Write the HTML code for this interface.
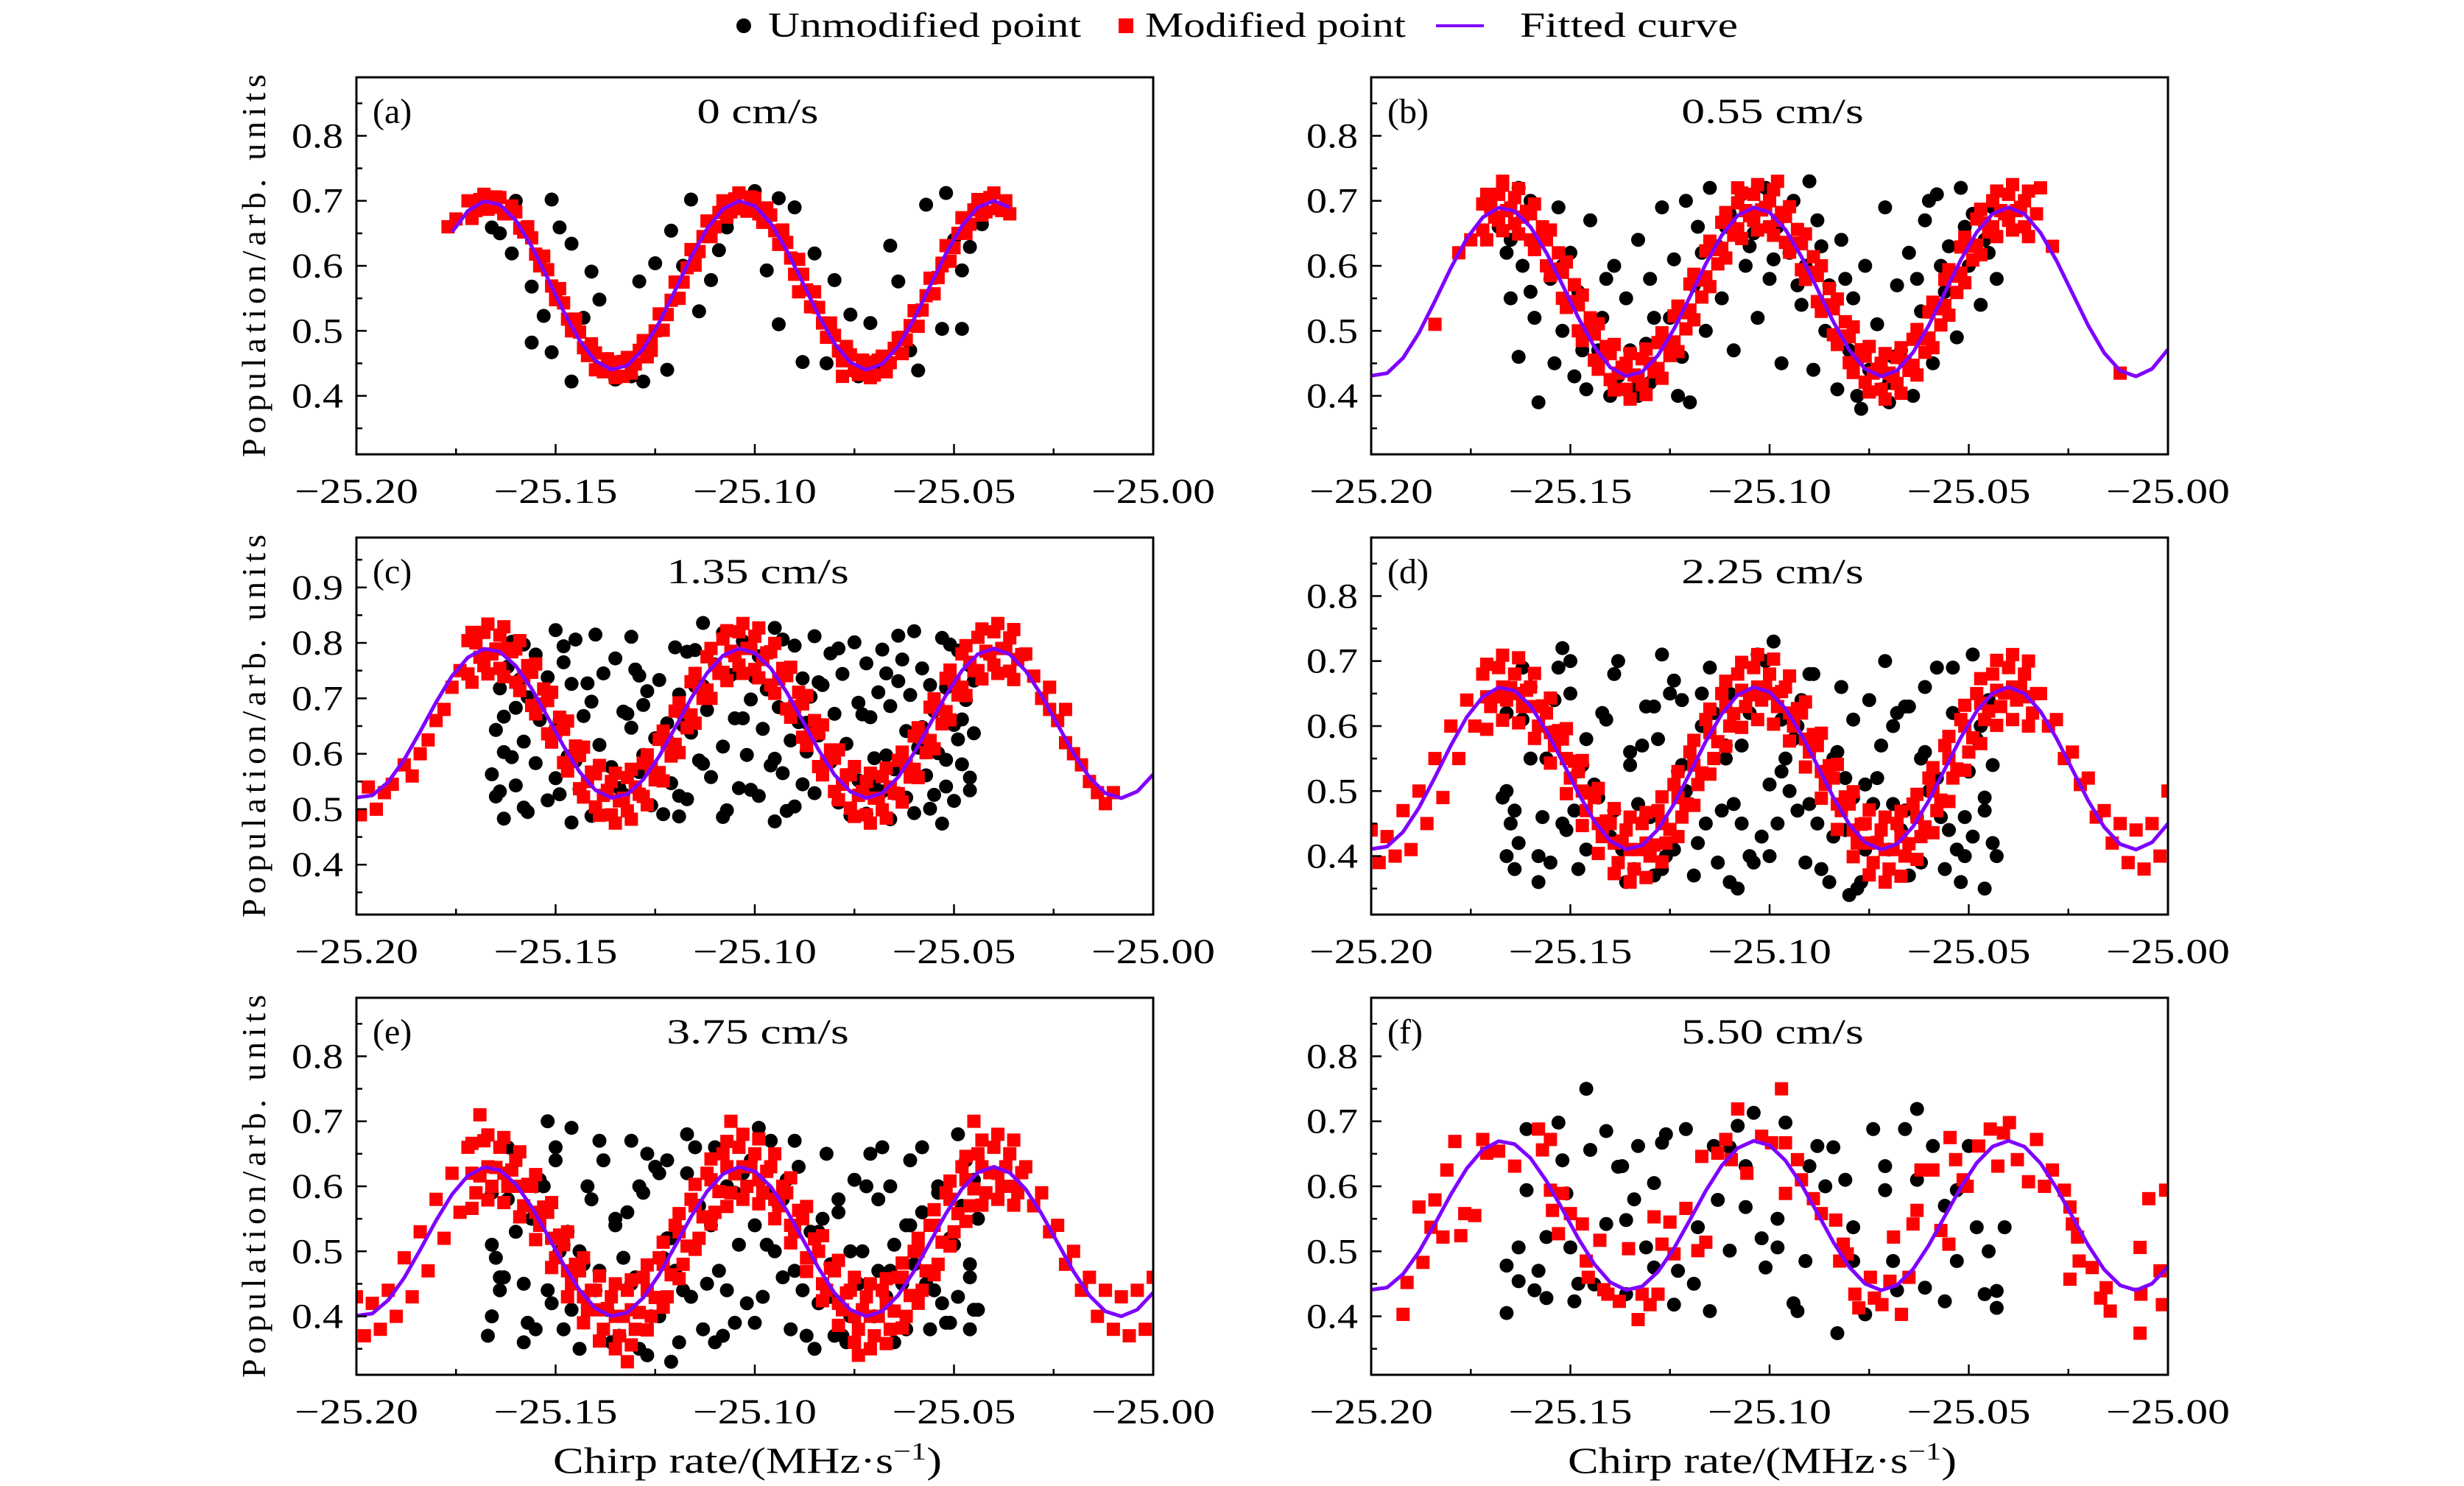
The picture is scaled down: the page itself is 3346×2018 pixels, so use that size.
<!DOCTYPE html>
<html><head><meta charset="utf-8">
<style>
html,body{margin:0;padding:0;background:#fff;}
svg{display:block;font-family:"Liberation Serif","DejaVu Serif",serif;}
</style></head>
<body>
<svg id="fig" width="3346" height="2018" viewBox="0 0 3346 2018" xmlns="http://www.w3.org/2000/svg">
<g>
<circle cx="1010" cy="35" r="10" fill="#000"/>
<text x="1043" y="50" font-size="48" textLength="425" lengthAdjust="spacingAndGlyphs">Unmodified point</text>
<rect x="1519" y="25" width="20" height="20" fill="#f00"/>
<text x="1555" y="50" font-size="48" textLength="354" lengthAdjust="spacingAndGlyphs">Modified point</text>
<line x1="1950" y1="35" x2="2015" y2="35" stroke="#7f00ff" stroke-width="4"/>
<text x="2064" y="50" font-size="48" textLength="296" lengthAdjust="spacingAndGlyphs">Fitted curve</text>
</g>
</svg>
<script>
// ---------- shared data ----------
const xTicks = [-25.20, -25.15, -25.10, -25.05, -25.00];
const xTickLabels = ["\u221225.20", "\u221225.15", "\u221225.10", "\u221225.05", "\u221225.00"];
const yTicksStd = [0.4, 0.5, 0.6, 0.7, 0.8];
const yTicksC = [0.4, 0.5, 0.6, 0.7, 0.8, 0.9];
const panelLetters = ["(a)", "(b)", "(c)", "(d)", "(e)", "(f)"];
const panelTitles = ["0 cm/s", "0.55 cm/s", "1.35 cm/s", "2.25 cm/s", "3.75 cm/s", "5.50 cm/s"];
const panelYMin = [0.31, 0.31, 0.31, 0.31, 0.31, 0.31];
const panelYMax = [0.89, 0.89, 0.99, 0.89, 0.89, 0.89];
const curveX = [-25.200,-25.196,-25.192,-25.188,-25.184,-25.180,-25.176,-25.172,-25.168,-25.164,-25.160,-25.156,-25.152,-25.148,-25.144,-25.140,-25.136,-25.132,-25.128,-25.124,-25.120,-25.116,-25.112,-25.108,-25.104,-25.100,-25.096,-25.092,-25.088,-25.084,-25.080,-25.076,-25.072,-25.068,-25.064,-25.060,-25.056,-25.052,-25.048,-25.044,-25.040,-25.036,-25.032,-25.028,-25.024,-25.020,-25.016,-25.012,-25.008,-25.004,-25.000];
const curveShape = [-0.993,-0.963,-0.783,-0.485,-0.110,0.282,0.631,0.881,0.995,0.956,0.768,0.462,0.084,-0.306,-0.649,-0.893,-0.997,-0.948,-0.752,-0.440,-0.059,0.331,0.669,0.903,0.999,0.940,0.736,0.416,0.035,-0.355,-0.688,-0.913,-1.0,-0.931,-0.718,-0.394,-0.009,0.378,0.705,0.924,1.0,0.921,0.700,0.371,-0.016,-0.400,-0.723,-0.934,-1.0,-0.911,-0.682];
const curveMean = [0.57, 0.56, 0.655, 0.535, 0.515, 0.555];
const curveAmp = [0.13, 0.13, 0.135, 0.125, 0.115, 0.115];
const curveFrom = [-25.178, -25.2, -25.2, -25.2, -25.2, -25.2];
const curveTo = [-25.036, -25.0, -25.0, -25.0, -25.0, -25.0];

const bandX = [-25.171,-25.171,-25.169,-25.167,-25.167,-25.165,-25.163,-25.163,-25.161,-25.159,-25.159,-25.157,-25.155,-25.155,-25.153,-25.151,-25.151,-25.149,-25.147,-25.147,-25.145,-25.143,-25.143,-25.141,-25.139,-25.139,-25.137,-25.135,-25.135,-25.133,-25.131,-25.131,-25.129,-25.127,-25.127,-25.125,-25.123,-25.123,-25.121,-25.119,-25.119,-25.117,-25.115,-25.115,-25.113,-25.111,-25.111,-25.109,-25.107,-25.107,-25.105,-25.103,-25.103,-25.101,-25.099,-25.099,-25.097,-25.095,-25.095,-25.093,-25.091,-25.091,-25.089,-25.087,-25.087,-25.085,-25.083,-25.083,-25.081,-25.079,-25.079,-25.077,-25.075,-25.075,-25.073,-25.071,-25.071,-25.069,-25.067,-25.067,-25.065,-25.063,-25.063,-25.061,-25.059,-25.059,-25.057,-25.055,-25.055,-25.053,-25.051,-25.051,-25.049,-25.047,-25.047,-25.045,-25.043,-25.043,-25.041,-25.039,-25.039,-25.037,-25.035,-25.035,-25.033];

// ---------- panel (a) ----------
const aRedX = [-25.177,-25.175,-25.172,-25.170,-25.168,-25.166,-25.164,-25.162,-25.160,-25.158,-25.156,-25.154,-25.152,-25.150,-25.148,-25.146,-25.144,-25.142,-25.140,-25.138,-25.136,-25.134,-25.132,-25.130,-25.128,-25.126,-25.124,-25.122,-25.120,-25.118,-25.116,-25.114,-25.112,-25.110,-25.108,-25.106,-25.104,-25.102,-25.100,-25.098,-25.096,-25.094,-25.092,-25.090,-25.088,-25.086,-25.084,-25.082,-25.080,-25.078,-25.076,-25.074,-25.072,-25.070,-25.068,-25.066,-25.064,-25.062,-25.060,-25.058,-25.056,-25.054,-25.052,-25.050,-25.048,-25.046,-25.044,-25.042,-25.040,-25.038,-25.036,-25.171,-25.163,-25.150,-25.140,-25.133,-25.126,-25.115,-25.105,-25.099,-25.089,-25.078,-25.071,-25.063,-25.053,-25.043,
-25.171,-25.169,-25.167,-25.165,-25.163,-25.161,-25.159,-25.157,-25.155,-25.153,-25.151,-25.149,-25.147,-25.145,-25.143,-25.141,-25.139,-25.137,-25.135,-25.133,-25.131,-25.129,-25.127,-25.125,-25.123,-25.121,-25.119,-25.117,-25.115,-25.113,-25.111,-25.109,-25.107,-25.105,-25.103,-25.101,-25.099,-25.097,-25.095,-25.093,-25.091,-25.089,-25.087,-25.085,-25.083,-25.081,-25.079,-25.077,-25.075,-25.073,-25.071,-25.069,-25.067,-25.065,-25.063,-25.061,-25.059,-25.057,-25.055,-25.053,-25.051,-25.049,-25.047,-25.045,-25.043,-25.041,-25.039,-25.037];
const aRedY = [0.66,0.672,0.70,0.685,0.71,0.69,0.705,0.68,0.683,0.652,0.643,0.60,0.594,0.548,0.543,0.50,0.498,0.462,0.466,0.437,0.452,0.43,0.459,0.449,0.485,0.48,0.526,0.525,0.575,0.575,0.625,0.622,0.669,0.66,0.70,0.683,0.712,0.684,0.704,0.667,0.678,0.633,0.636,0.587,0.587,0.537,0.536,0.49,0.493,0.454,0.463,0.433,0.452,0.432,0.461,0.451,0.489,0.486,0.531,0.532,0.581,0.582,0.631,0.628,0.674,0.664,0.702,0.683,0.712,0.685,0.68,0.675,0.68,0.56,0.44,0.43,0.47,0.62,0.69,0.685,0.56,0.43,0.44,0.49,0.60,0.69,
0.673,0.702,0.687,0.706,0.682,0.692,0.658,0.66,0.618,0.615,0.569,0.565,0.518,0.518,0.474,0.48,0.442,0.457,0.428,0.453,0.435,0.47,0.46,0.50,0.501,0.547,0.55,0.597,0.601,0.645,0.645,0.682,0.675,0.703,0.688,0.706,0.68,0.689,0.654,0.655,0.612,0.61,0.563,0.56,0.512,0.512,0.469,0.476,0.439,0.455,0.428,0.455,0.437,0.473,0.465,0.508,0.507,0.554,0.557,0.604,0.607,0.65,0.65,0.686,0.678,0.705,0.688,0.70];
const aBlackX = [-25.166,-25.164,-25.161,-25.156,-25.156,-25.153,-25.151,-25.151,-25.149,-25.146,-25.141,-25.139,-25.146,-25.128,-25.129,-25.125,-25.121,-25.116,-25.114,-25.111,-25.107,-25.109,-25.104,-25.094,-25.097,-25.094,-25.088,-25.085,-25.080,-25.076,-25.071,-25.066,-25.064,-25.059,-25.057,-25.053,-25.048,-25.048,-25.046,-25.043,-25.052,-25.135,-25.122,-25.082,-25.069,-25.160,-25.143,-25.131,-25.118,-25.100,-25.090,-25.074,-25.061,-25.050,-25.168];
const aBlackY = [0.659,0.650,0.619,0.568,0.482,0.523,0.467,0.702,0.659,0.634,0.591,0.548,0.422,0.422,0.576,0.604,0.654,0.702,0.530,0.578,0.659,0.624,0.690,0.704,0.593,0.510,0.452,0.619,0.578,0.525,0.512,0.631,0.576,0.439,0.694,0.503,0.503,0.593,0.629,0.664,0.712,0.425,0.440,0.450,0.440,0.700,0.520,0.430,0.600,0.715,0.690,0.430,0.470,0.640,0.690];

// ---------- panel (b) ----------
const bRedX = [-25.172,-25.172,-25.170,-25.168,-25.168,-25.166,-25.164,-25.164,-25.162,-25.160,-25.160,-25.158,-25.156,-25.156,-25.154,-25.152,-25.152,-25.150,-25.148,-25.148,-25.146,-25.144,-25.144,-25.142,-25.140,-25.140,-25.138,-25.136,-25.136,-25.134,-25.132,-25.132,-25.130,-25.128,-25.128,-25.126,-25.124,-25.124,-25.122,-25.120,-25.120,-25.118,-25.116,-25.116,-25.114,-25.112,-25.112,-25.110,-25.108,-25.108,-25.106,-25.104,-25.104,-25.102,-25.100,-25.100,-25.098,-25.096,-25.096,-25.094,-25.092,-25.092,-25.090,-25.088,-25.088,-25.086,-25.084,-25.084,-25.082,-25.080,-25.080,-25.078,-25.076,-25.076,-25.074,-25.072,-25.072,-25.070,-25.068,-25.068,-25.066,-25.064,-25.064,-25.062,-25.060,-25.060,-25.058,-25.056,-25.056,-25.054,-25.052,-25.052,-25.050,-25.048,-25.048,-25.046,-25.044,-25.044,-25.042,-25.040,-25.040,-25.038,-25.036,-25.036,-25.178,-25.184,-25.175,-25.032,-25.029,-25.012,-25.167,-25.108,-25.098];
const bRedY = [0.695,0.655,0.69,0.71,0.67,0.685,0.705,0.665,0.675,0.68,0.64,0.64,0.64,0.60,0.595,0.59,0.55,0.545,0.54,0.50,0.50,0.495,0.455,0.46,0.465,0.425,0.435,0.45,0.41,0.432,0.457,0.417,0.45,0.482,0.442,0.48,0.523,0.483,0.528,0.572,0.532,0.578,0.623,0.583,0.625,0.667,0.627,0.662,0.697,0.657,0.685,0.71,0.67,0.686,0.70,0.66,0.67,0.676,0.636,0.635,0.634,0.594,0.59,0.585,0.545,0.54,0.534,0.494,0.492,0.491,0.451,0.456,0.461,0.421,0.435,0.45,0.41,0.435,0.459,0.419,0.453,0.487,0.447,0.488,0.529,0.489,0.534,0.579,0.539,0.584,0.629,0.589,0.63,0.672,0.632,0.666,0.70,0.66,0.685,0.71,0.67,0.685,0.70,0.66,0.62,0.51,0.64,0.72,0.63,0.435,0.73,0.72,0.73];
const bBandY = [0.71,0.64,0.675,0.724,0.654,0.689,0.719,0.649,0.684,0.695,0.625,0.66,0.655,0.585,0.62,0.606,0.536,0.571,0.555,0.485,0.52,0.511,0.441,0.476,0.479,0.409,0.444,0.465,0.395,0.43,0.472,0.402,0.437,0.497,0.427,0.462,0.538,0.468,0.503,0.587,0.517,0.552,0.638,0.568,0.603,0.682,0.612,0.647,0.712,0.642,0.677,0.725,0.655,0.69,0.717,0.647,0.682,0.691,0.621,0.656,0.649,0.579,0.614,0.60,0.53,0.565,0.549,0.479,0.514,0.506,0.436,0.471,0.476,0.406,0.441,0.465,0.395,0.43,0.474,0.404,0.439,0.502,0.432,0.467,0.544,0.474,0.509,0.594,0.524,0.559,0.644,0.574,0.609,0.687,0.617,0.652,0.715,0.645,0.68,0.725,0.655,0.69,0.715,0.645,0.68];
const bBlackX = [-25.168,-25.166,-25.165,-25.163,-25.162,-25.160,-25.159,-25.158,-25.157,-25.155,-25.154,-25.153,-25.152,-25.150,-25.149,-25.148,-25.146,-25.145,-25.143,-25.142,-25.140,-25.139,-25.137,-25.136,-25.134,-25.133,-25.131,-25.130,-25.128,-25.127,-25.125,-25.124,-25.122,-25.121,-25.119,-25.118,-25.116,-25.115,-25.113,-25.112,-25.110,-25.109,-25.107,-25.106,-25.104,-25.103,-25.101,-25.100,-25.098,-25.097,-25.095,-25.094,-25.092,-25.091,-25.089,-25.088,-25.086,-25.085,-25.083,-25.082,-25.080,-25.079,-25.077,-25.076,-25.074,-25.073,-25.071,-25.070,-25.068,-25.067,-25.065,-25.064,-25.062,-25.061,-25.059,-25.058,-25.056,-25.055,-25.053,-25.052,-25.050,-25.049,-25.047,-25.046,-25.044,-25.043,-25.163,-25.145,-25.120,-25.090,-25.060,-25.130,-25.070,
-25.165,-25.160,-25.152,-25.147,-25.141,-25.135,-25.129,-25.123,-25.117,-25.111,-25.105,-25.099,-25.093,-25.087,-25.081,-25.075,-25.069,-25.063,-25.057,-25.051,-25.045,-25.138,-25.133,-25.078,-25.072];
const bBlackY = [0.66,0.62,0.55,0.46,0.60,0.70,0.52,0.39,0.64,0.58,0.45,0.69,0.50,0.62,0.43,0.56,0.41,0.67,0.47,0.52,0.40,0.60,0.44,0.55,0.41,0.64,0.48,0.58,0.43,0.69,0.52,0.61,0.46,0.70,0.57,0.66,0.50,0.72,0.63,0.55,0.68,0.47,0.71,0.60,0.65,0.52,0.72,0.58,0.66,0.45,0.62,0.70,0.54,0.60,0.44,0.67,0.50,0.57,0.41,0.64,0.47,0.55,0.38,0.60,0.44,0.51,0.69,0.42,0.57,0.47,0.62,0.40,0.53,0.67,0.45,0.71,0.56,0.63,0.49,0.72,0.60,0.68,0.54,0.64,0.69,0.58,0.72,0.50,0.39,0.73,0.70,0.42,0.39,
0.64,0.56,0.60,0.47,0.58,0.47,0.52,0.40,0.62,0.66,0.63,0.61,0.57,0.63,0.58,0.44,0.46,0.58,0.60,0.66,0.62,0.43,0.40,0.40,0.41];

// ---------- panel (c) ----------
const cRedX = [-25.199,-25.197,-25.195,-25.193,-25.191,-25.188,-25.186,-25.184,-25.182,-25.180,-25.178,-25.176,-25.174,-25.172,-25.172,-25.170,-25.168,-25.168,-25.166,-25.164,-25.164,-25.162,-25.160,-25.160,-25.158,-25.156,-25.156,-25.154,-25.152,-25.152,-25.150,-25.148,-25.148,-25.146,-25.144,-25.144,-25.142,-25.140,-25.140,-25.138,-25.136,-25.136,-25.134,-25.132,-25.132,-25.130,-25.128,-25.128,-25.126,-25.124,-25.124,-25.122,-25.120,-25.120,-25.118,-25.116,-25.116,-25.114,-25.112,-25.112,-25.110,-25.108,-25.108,-25.106,-25.104,-25.104,-25.102,-25.100,-25.100,-25.098,-25.096,-25.096,-25.094,-25.092,-25.092,-25.090,-25.088,-25.088,-25.086,-25.084,-25.084,-25.082,-25.080,-25.080,-25.078,-25.076,-25.076,-25.074,-25.072,-25.072,-25.070,-25.068,-25.068,-25.066,-25.064,-25.064,-25.062,-25.060,-25.060,-25.058,-25.056,-25.056,-25.054,-25.052,-25.052,-25.050,-25.048,-25.048,-25.046,-25.044,-25.044,-25.042,-25.040,-25.040,-25.038,-25.036,-25.036,-25.034,-25.032,-25.030,-25.028,-25.026,-25.024,-25.022,-25.020,-25.018,-25.016,-25.014,-25.012,-25.010,-25.022,-25.026];
const cRedY = [0.49,0.54,0.50,0.53,0.545,0.58,0.56,0.60,0.625,0.66,0.68,0.72,0.75,0.804,0.744,0.80,0.819,0.759,0.78,0.814,0.754,0.79,0.789,0.729,0.74,0.747,0.687,0.69,0.696,0.636,0.64,0.644,0.584,0.59,0.597,0.537,0.55,0.564,0.504,0.525,0.55,0.49,0.515,0.557,0.497,0.54,0.583,0.523,0.575,0.626,0.566,0.62,0.677,0.617,0.675,0.73,0.67,0.72,0.775,0.715,0.76,0.807,0.747,0.785,0.82,0.76,0.79,0.812,0.752,0.77,0.784,0.724,0.735,0.741,0.681,0.685,0.69,0.63,0.635,0.637,0.577,0.585,0.592,0.532,0.545,0.562,0.502,0.525,0.55,0.49,0.52,0.559,0.499,0.54,0.588,0.528,0.58,0.632,0.572,0.63,0.684,0.624,0.68,0.736,0.676,0.73,0.78,0.72,0.765,0.81,0.75,0.785,0.82,0.76,0.79,0.809,0.749,0.77,0.78,0.74,0.70,0.68,0.66,0.62,0.60,0.58,0.55,0.53,0.51,0.53,0.68,0.72];
const cBandY = [0.819,0.729,0.774,0.834,0.744,0.789,0.829,0.739,0.784,0.804,0.714,0.759,0.762,0.672,0.717,0.711,0.621,0.666,0.659,0.569,0.614,0.612,0.522,0.567,0.579,0.489,0.534,0.565,0.475,0.52,0.572,0.482,0.527,0.598,0.508,0.553,0.641,0.551,0.596,0.692,0.602,0.647,0.745,0.655,0.70,0.79,0.70,0.745,0.822,0.732,0.777,0.835,0.745,0.79,0.827,0.737,0.782,0.799,0.709,0.754,0.756,0.666,0.711,0.705,0.615,0.66,0.652,0.562,0.607,0.607,0.517,0.562,0.577,0.487,0.532,0.565,0.475,0.52,0.574,0.484,0.529,0.603,0.513,0.558,0.647,0.557,0.602,0.699,0.609,0.654,0.751,0.661,0.706,0.795,0.705,0.75,0.825,0.735,0.78,0.835,0.745,0.79,0.824,0.734,0.779];
const cBlackX = [-25.150,-25.140,-25.113,-25.108,-25.095,-25.085,-25.060,-25.053,-25.158,-25.145,-25.120,-25.103,-25.090,-25.075,-25.068,-25.155,-25.135,-25.117,-25.099,-25.081,-25.063,-25.049,-25.162,-25.148,-25.130,-25.110,-25.092,-25.072,-25.058,-25.046,-25.152,-25.138,-25.124,-25.106,-25.088,-25.078,-25.064,-25.164,-25.146,-25.127,-25.115,-25.097,-25.083,-25.069,-25.052,-25.157,-25.141,-25.119,-25.101,-25.086,-25.074,-25.061,-25.047,-25.160,-25.133,-25.128,-25.112,-25.094,-25.080,-25.066,-25.055,-25.154,-25.143,-25.122,-25.105,-25.089,-25.071,-25.050,-25.165,-25.150,-25.131,-25.116,-25.098,-25.084,-25.062,-25.045,-25.158,-25.139,-25.125,-25.108,-25.091,-25.077,-25.059,-25.049,-25.163,-25.147,-25.120,-25.102,-25.087,-25.070,-25.054,-25.155,-25.136,-25.114,-25.096,-25.082,-25.065,-25.048,-25.166,-25.150,-25.129,-25.111,-25.093,-25.074,-25.057,-25.046,-25.160,-25.144,-25.121,-25.104,-25.088,-25.068,-25.052,-25.165,-25.152,-25.133,-25.117,-25.099,-25.079,-25.062,-25.050,-25.158,-25.140,-25.126,-25.107,-25.090,-25.072,-25.056,-25.163,-25.146,-25.119,-25.095,-25.066,-25.053,
-25.161,-25.148,-25.131,-25.115,-25.093,-25.079,-25.064,-25.051,-25.159,-25.142,-25.129,-25.113,-25.100,-25.084,-25.067,-25.056,-25.045,-25.163,-25.149,-25.132,-25.118,-25.103,-25.087,-25.073,-25.058,-25.048,-25.161,-25.145,-25.128,-25.113,-25.095,-25.081,-25.067,-25.052,-25.164,-25.149,-25.134,-25.119,-25.101,-25.085,-25.070,-25.055,-25.046,-25.157,-25.141,-25.123,-25.108,-25.092,-25.076,-25.060];
const cBlackY = [0.823,0.815,0.836,0.818,0.827,0.812,0.821,0.809,0.797,0.806,0.792,0.803,0.795,0.801,0.788,0.779,0.772,0.784,0.776,0.781,0.770,0.786,0.757,0.765,0.752,0.761,0.748,0.763,0.754,0.759,0.738,0.745,0.733,0.742,0.736,0.744,0.731,0.718,0.726,0.713,0.722,0.716,0.724,0.711,0.719,0.702,0.694,0.707,0.698,0.703,0.692,0.706,0.697,0.683,0.676,0.688,0.679,0.684,0.672,0.686,0.677,0.661,0.668,0.655,0.664,0.657,0.666,0.652,0.643,0.636,0.647,0.638,0.645,0.633,0.641,0.637,0.622,0.616,0.628,0.613,0.624,0.618,0.611,0.626,0.603,0.595,0.606,0.598,0.604,0.592,0.601,0.583,0.576,0.588,0.579,0.585,0.572,0.581,0.563,0.556,0.567,0.558,0.565,0.552,0.561,0.557,0.543,0.536,0.547,0.538,0.545,0.532,0.541,0.523,0.516,0.527,0.518,0.524,0.512,0.521,0.515,0.503,0.496,0.507,0.498,0.505,0.492,0.501,0.483,0.476,0.487,0.478,0.482,0.474,
0.802,0.794,0.811,0.787,0.806,0.79,0.813,0.797,0.734,0.727,0.741,0.722,0.738,0.729,0.745,0.724,0.732,0.667,0.659,0.672,0.651,0.664,0.656,0.671,0.648,0.662,0.594,0.587,0.598,0.582,0.591,0.585,0.597,0.589,0.532,0.527,0.538,0.524,0.535,0.529,0.541,0.526,0.534,0.495,0.488,0.491,0.486,0.497,0.489,0.493];

// ---------- panel (d) ----------
const dRedX = [-25.200,-25.198,-25.196,-25.194,-25.192,-25.190,-25.188,-25.186,-25.184,-25.182,-25.180,-25.178,-25.176,-25.174,-25.172,-25.170,-25.168,-25.166,-25.164,-25.162,-25.160,-25.158,-25.156,-25.154,-25.152,-25.150,-25.148,-25.146,-25.144,-25.142,-25.140,-25.138,-25.136,-25.134,-25.132,-25.130,-25.128,-25.126,-25.124,-25.122,-25.120,-25.118,-25.116,-25.114,-25.112,-25.110,-25.108,-25.106,-25.104,-25.102,-25.100,-25.098,-25.096,-25.094,-25.092,-25.090,-25.088,-25.086,-25.084,-25.082,-25.080,-25.078,-25.076,-25.074,-25.072,-25.070,-25.068,-25.066,-25.064,-25.062,-25.060,-25.058,-25.056,-25.054,-25.052,-25.050,-25.048,-25.046,-25.044,-25.042,-25.040,-25.038,-25.036,-25.034,-25.032,-25.030,-25.028,-25.026,-25.024,-25.022,-25.020,-25.018,-25.016,-25.014,-25.012,-25.010,-25.008,-25.006,-25.004,-25.002,-25.000,-25.171,-25.167,-25.163,-25.159,-25.155,-25.151,-25.147,-25.143,-25.139,-25.135,-25.131,-25.127,-25.123,-25.119,-25.115,-25.111,-25.107,-25.103,-25.099,-25.095,-25.091,-25.087,-25.083,-25.079,-25.075,-25.071,-25.067,-25.063,-25.059,-25.055,-25.051,-25.047,-25.043,-25.039,-25.035];
const dRedY = [0.44,0.39,0.43,0.40,0.47,0.41,0.50,0.45,0.55,0.49,0.60,0.55,0.64,0.60,0.68,0.63,0.69,0.64,0.68,0.63,0.66,0.60,0.62,0.57,0.58,0.52,0.53,0.47,0.49,0.43,0.45,0.39,0.44,0.38,0.45,0.40,0.47,0.42,0.51,0.46,0.56,0.51,0.61,0.55,0.65,0.60,0.68,0.63,0.69,0.64,0.68,0.63,0.66,0.60,0.62,0.56,0.57,0.51,0.52,0.47,0.48,0.42,0.45,0.39,0.44,0.38,0.45,0.40,0.48,0.43,0.52,0.47,0.57,0.52,0.61,0.56,0.65,0.61,0.68,0.63,0.69,0.64,0.68,0.62,0.65,0.60,0.61,0.55,0.56,0.51,0.52,0.46,0.47,0.42,0.45,0.39,0.44,0.38,0.45,0.40,0.50,0.645,0.66,0.65,0.63,0.59,0.55,0.50,0.45,0.42,0.41,0.42,0.45,0.49,0.54,0.59,0.63,0.655,0.66,0.65,0.62,0.58,0.53,0.48,0.44,0.42,0.41,0.43,0.46,0.50,0.55,0.60,0.635,0.655,0.66,0.645];
const dBandY = [0.695,0.595,0.645,0.709,0.609,0.659,0.705,0.605,0.655,0.681,0.581,0.631,0.643,0.543,0.593,0.596,0.496,0.546,0.547,0.447,0.497,0.504,0.404,0.454,0.473,0.373,0.423,0.46,0.36,0.41,0.467,0.367,0.417,0.491,0.391,0.441,0.53,0.43,0.48,0.578,0.478,0.528,0.626,0.526,0.576,0.669,0.569,0.619,0.698,0.598,0.648,0.71,0.61,0.66,0.703,0.603,0.653,0.677,0.577,0.627,0.637,0.537,0.587,0.589,0.489,0.539,0.541,0.441,0.491,0.499,0.399,0.449,0.471,0.371,0.421,0.46,0.36,0.41,0.469,0.369,0.419,0.495,0.395,0.445,0.536,0.436,0.486,0.584,0.484,0.534,0.632,0.532,0.582,0.673,0.573,0.623,0.701,0.601,0.651,0.71,0.61,0.66,0.70,0.60,0.65];
const dBlackX = [-25.166,-25.160,-25.153,-25.146,-25.138,-25.131,-25.124,-25.117,-25.110,-25.103,-25.096,-25.089,-25.082,-25.075,-25.068,-25.061,-25.054,-25.047,-25.163,-25.156,-25.149,-25.142,-25.135,-25.128,-25.121,-25.114,-25.107,-25.100,-25.093,-25.086,-25.079,-25.072,-25.065,-25.058,-25.051,-25.044,-25.167,-25.158,-25.151,-25.144,-25.137,-25.130,-25.123,-25.116,-25.109,-25.102,-25.095,-25.088,-25.081,-25.074,-25.067,-25.060,-25.053,-25.046,-25.164,-25.157,-25.148,-25.140,-25.133,-25.126,-25.119,-25.112,-25.105,-25.098,-25.091,-25.084,-25.077,-25.070,-25.063,-25.056,-25.049,-25.043,-25.165,-25.155,-25.147,-25.139,-25.132,-25.125,-25.118,-25.111,-25.104,-25.097,-25.090,-25.083,-25.076,-25.069,-25.062,-25.055,-25.048,-25.162,-25.150,-25.136,-25.122,-25.108,-25.094,-25.080,-25.066,-25.052,-25.152,-25.127,-25.099,-25.078,-25.046,
-25.162,-25.150,-25.139,-25.127,-25.115,-25.101,-25.090,-25.071,-25.058,-25.049,-25.166,-25.154,-25.141,-25.129,-25.117,-25.105,-25.092,-25.079,-25.066,-25.054,-25.045,-25.160,-25.148,-25.135,-25.122,-25.111,-25.097,-25.084,-25.073,-25.061,-25.050,-25.164,-25.152,-25.143,-25.131,-25.120,-25.107,-25.093,-25.081,-25.069,-25.057,-25.046,-25.166,-25.155,-25.146,-25.134,-25.124,-25.113,-25.100,-25.087,-25.076,-25.062,-25.051,-25.044,-25.158,-25.129,-25.110,-25.085,-25.065];
const dBlackY = [0.50,0.66,0.69,0.58,0.70,0.63,0.67,0.60,0.65,0.71,0.55,0.68,0.66,0.64,0.62,0.66,0.69,0.60,0.42,0.55,0.47,0.62,0.54,0.58,0.50,0.62,0.57,0.51,0.60,0.53,0.49,0.57,0.63,0.52,0.46,0.54,0.49,0.40,0.44,0.51,0.41,0.46,0.53,0.45,0.48,0.43,0.50,0.45,0.52,0.48,0.44,0.50,0.41,0.47,0.38,0.46,0.38,0.43,0.48,0.40,0.37,0.47,0.40,0.45,0.39,0.43,0.36,0.41,0.46,0.38,0.43,0.40,0.45,0.59,0.54,0.47,0.57,0.65,0.42,0.55,0.39,0.61,0.48,0.56,0.51,0.60,0.55,0.44,0.58,0.61,0.65,0.36,0.64,0.35,0.58,0.34,0.47,0.36,0.72,0.38,0.73,0.35,0.35,
0.69,0.70,0.68,0.71,0.69,0.70,0.68,0.70,0.69,0.71,0.62,0.64,0.61,0.63,0.65,0.62,0.64,0.61,0.63,0.62,0.64,0.55,0.53,0.56,0.54,0.57,0.53,0.55,0.52,0.56,0.53,0.47,0.45,0.49,0.46,0.48,0.45,0.47,0.44,0.48,0.46,0.49,0.40,0.39,0.41,0.38,0.41,0.39,0.40,0.38,0.41,0.39,0.40,0.42,0.36,0.37,0.36,0.36,0.37];

// ---------- panel (e) ----------
const eRedX = [-25.200,-25.198,-25.196,-25.194,-25.192,-25.190,-25.188,-25.186,-25.184,-25.182,-25.180,-25.178,-25.176,-25.174,-25.172,-25.170,-25.168,-25.166,-25.164,-25.162,-25.160,-25.158,-25.156,-25.154,-25.152,-25.150,-25.148,-25.146,-25.144,-25.142,-25.140,-25.138,-25.136,-25.134,-25.132,-25.130,-25.128,-25.126,-25.124,-25.122,-25.120,-25.118,-25.116,-25.114,-25.112,-25.110,-25.108,-25.106,-25.104,-25.102,-25.100,-25.098,-25.096,-25.094,-25.092,-25.090,-25.088,-25.086,-25.084,-25.082,-25.080,-25.078,-25.076,-25.074,-25.072,-25.070,-25.068,-25.066,-25.064,-25.062,-25.060,-25.058,-25.056,-25.054,-25.052,-25.050,-25.048,-25.046,-25.044,-25.042,-25.040,-25.038,-25.036,-25.034,-25.032,-25.030,-25.028,-25.026,-25.024,-25.022,-25.020,-25.018,-25.016,-25.014,-25.012,-25.010,-25.008,-25.006,-25.004,-25.002,-25.000,-25.171,-25.167,-25.163,-25.159,-25.155,-25.151,-25.147,-25.143,-25.139,-25.135,-25.131,-25.127,-25.123,-25.119,-25.115,-25.111,-25.107,-25.103,-25.099,-25.095,-25.091,-25.087,-25.083,-25.079,-25.075,-25.071,-25.067,-25.063,-25.059,-25.055,-25.051,-25.047,-25.043,-25.039,-25.035,-25.169,-25.106,-25.045,-25.132,-25.074];
const eRedY = [0.43,0.37,0.42,0.38,0.44,0.40,0.49,0.43,0.53,0.47,0.58,0.52,0.62,0.56,0.66,0.59,0.67,0.60,0.66,0.60,0.64,0.57,0.60,0.54,0.56,0.49,0.51,0.45,0.47,0.41,0.44,0.38,0.43,0.37,0.44,0.38,0.46,0.40,0.49,0.43,0.54,0.48,0.58,0.52,0.62,0.56,0.65,0.59,0.66,0.60,0.65,0.59,0.63,0.57,0.59,0.53,0.55,0.49,0.50,0.44,0.47,0.41,0.44,0.38,0.43,0.37,0.44,0.38,0.46,0.40,0.50,0.44,0.54,0.48,0.59,0.53,0.63,0.57,0.65,0.59,0.66,0.60,0.65,0.59,0.63,0.57,0.59,0.53,0.54,0.48,0.50,0.44,0.46,0.40,0.44,0.38,0.43,0.37,0.44,0.38,0.46,0.62,0.63,0.62,0.60,0.56,0.52,0.47,0.43,0.41,0.40,0.41,0.44,0.48,0.53,0.57,0.61,0.63,0.63,0.61,0.58,0.54,0.49,0.45,0.42,0.40,0.40,0.42,0.46,0.50,0.54,0.58,0.61,0.63,0.62,0.60,0.71,0.70,0.70,0.33,0.34];
const eBandY = [0.666,0.566,0.616,0.679,0.579,0.629,0.675,0.575,0.625,0.653,0.553,0.603,0.618,0.518,0.568,0.575,0.475,0.525,0.53,0.43,0.48,0.49,0.39,0.44,0.462,0.362,0.412,0.45,0.35,0.40,0.456,0.356,0.406,0.479,0.379,0.429,0.514,0.414,0.464,0.558,0.458,0.508,0.603,0.503,0.553,0.642,0.542,0.592,0.669,0.569,0.619,0.68,0.58,0.63,0.673,0.573,0.623,0.65,0.55,0.60,0.613,0.513,0.563,0.569,0.469,0.519,0.524,0.424,0.474,0.486,0.386,0.436,0.46,0.36,0.41,0.45,0.35,0.40,0.458,0.358,0.408,0.482,0.382,0.432,0.52,0.42,0.47,0.564,0.464,0.514,0.608,0.508,0.558,0.646,0.546,0.596,0.671,0.571,0.621,0.68,0.58,0.63,0.671,0.571,0.621];
const eBlackX = [-25.166,-25.160,-25.153,-25.146,-25.138,-25.131,-25.124,-25.117,-25.110,-25.103,-25.096,-25.089,-25.082,-25.075,-25.068,-25.061,-25.054,-25.047,-25.163,-25.156,-25.149,-25.142,-25.135,-25.128,-25.121,-25.114,-25.107,-25.100,-25.093,-25.086,-25.079,-25.072,-25.065,-25.058,-25.051,-25.044,-25.167,-25.158,-25.151,-25.144,-25.137,-25.130,-25.123,-25.116,-25.109,-25.102,-25.095,-25.088,-25.081,-25.074,-25.067,-25.060,-25.053,-25.046,-25.164,-25.157,-25.148,-25.140,-25.133,-25.126,-25.119,-25.112,-25.105,-25.098,-25.091,-25.084,-25.077,-25.070,-25.063,-25.056,-25.049,-25.045,-25.165,-25.155,-25.147,-25.139,-25.132,-25.125,-25.118,-25.111,-25.104,-25.097,-25.090,-25.083,-25.076,-25.069,-25.062,-25.055,-25.048,-25.162,-25.150,-25.136,-25.122,-25.108,-25.094,-25.080,-25.066,-25.052,-25.152,-25.127,-25.099,-25.078,-25.046,-25.121,-25.144,
-25.162,-25.150,-25.139,-25.127,-25.115,-25.101,-25.090,-25.071,-25.058,-25.049,-25.166,-25.154,-25.141,-25.129,-25.117,-25.105,-25.092,-25.079,-25.066,-25.054,-25.045,-25.160,-25.148,-25.135,-25.122,-25.111,-25.097,-25.084,-25.073,-25.061,-25.050,-25.164,-25.152,-25.143,-25.131,-25.120,-25.107,-25.093,-25.081,-25.069,-25.057,-25.046,-25.166,-25.155,-25.146,-25.134,-25.124,-25.113,-25.100,-25.087,-25.076,-25.062,-25.051,-25.044,-25.158,-25.129,-25.110,-25.085,-25.065];
const eBlackY = [0.51,0.65,0.60,0.69,0.64,0.67,0.62,0.68,0.66,0.62,0.67,0.63,0.65,0.61,0.66,0.64,0.60,0.64,0.46,0.55,0.50,0.60,0.55,0.59,0.52,0.57,0.60,0.54,0.58,0.53,0.56,0.60,0.51,0.56,0.52,0.55,0.37,0.45,0.42,0.50,0.41,0.46,0.49,0.43,0.47,0.42,0.50,0.44,0.48,0.45,0.43,0.48,0.42,0.46,0.44,0.39,0.38,0.44,0.49,0.40,0.36,0.45,0.39,0.43,0.38,0.42,0.36,0.40,0.45,0.38,0.43,0.41,0.49,0.60,0.53,0.47,0.56,0.63,0.44,0.54,0.51,0.59,0.47,0.55,0.50,0.58,0.54,0.44,0.57,0.58,0.66,0.36,0.64,0.37,0.57,0.37,0.47,0.39,0.70,0.34,0.69,0.37,0.38,0.33,0.35,
0.66,0.64,0.67,0.65,0.66,0.64,0.67,0.65,0.66,0.68,0.59,0.61,0.58,0.60,0.62,0.59,0.61,0.58,0.60,0.59,0.61,0.53,0.51,0.54,0.52,0.55,0.51,0.53,0.50,0.54,0.51,0.46,0.44,0.48,0.45,0.47,0.44,0.46,0.43,0.47,0.45,0.48,0.40,0.38,0.41,0.37,0.40,0.38,0.39,0.37,0.40,0.38,0.39,0.41,0.36,0.35,0.36,0.35,0.36];

// ---------- panel (f) ----------
const fRedX = [-25.192,-25.191,-25.187,-25.188,-25.184,-25.185,-25.182,-25.181,-25.179,-25.1775,-25.1765,-25.174,-25.172,-25.171,-25.168,-25.164,-25.158,-25.155,-25.157,-25.155,-25.1545,-25.153,-25.152,-25.150,-25.147,-25.146,-25.1455,-25.1426,-25.1416,-25.1406,-25.1377,-25.1354,-25.133,-25.132,-25.130,-25.129,-25.128,-25.127,-25.125,-25.124,-25.121,-25.118,-25.117,-25.116,-25.113,-25.111,-25.1096,-25.108,-25.1057,-25.102,-25.0995,-25.097,-25.096,-25.096,-25.093,-25.092,-25.089,-25.087,-25.0834,-25.0824,-25.0815,-25.0805,-25.0786,-25.0776,-25.0747,-25.0737,-25.0718,-25.0698,-25.0689,-25.0669,-25.065,-25.064,-25.063,-25.062,-25.059,-25.057,-25.055,-25.0547,-25.0533,-25.0514,-25.0504,-25.0475,-25.0446,-25.0427,-25.0413,-25.0398,-25.0378,-25.035,-25.033,-25.031,-25.029,-25.026,-25.0246,-25.024,-25.0227,-25.0223,-25.0246,-25.019,-25.0169,-25.0155,-25.0145,-25.007,-25.0068,-25.007,-25.0048,-25.002,-25.0014,-25.0006];
const fRedY = [0.403,0.452,0.483,0.568,0.579,0.537,0.522,0.625,0.669,0.524,0.558,0.555,0.672,0.651,0.654,0.631,0.688,0.672,0.656,0.594,0.563,0.527,0.589,0.558,0.542,0.485,0.46,0.517,0.441,0.434,0.423,0.504,0.395,0.434,0.418,0.553,0.434,0.511,0.545,0.496,0.566,0.501,0.646,0.514,0.651,0.672,0.641,0.719,0.62,0.677,0.667,0.75,0.667,0.589,0.641,0.61,0.581,0.558,0.548,0.485,0.511,0.496,0.434,0.413,0.46,0.428,0.418,0.454,0.522,0.403,0.46,0.542,0.563,0.625,0.625,0.532,0.511,0.675,0.641,0.61,0.6,0.662,0.688,0.631,0.682,0.698,0.641,0.607,0.672,0.6,0.625,0.594,0.568,0.542,0.522,0.485,0.457,0.475,0.428,0.444,0.408,0.506,0.434,0.374,0.581,0.47,0.418,0.594];
const fBlackX = [-25.166,-25.166,-25.163,-25.163,-25.161,-25.161,-25.156,-25.156,-25.153,-25.151,-25.150,-25.149,-25.146,-25.145,-25.144,-25.141,-25.141,-25.138,-25.136,-25.136,-25.133,-25.131,-25.129,-25.127,-25.124,-25.123,-25.121,-25.118,-25.115,-25.113,-25.110,-25.108,-25.106,-25.104,-25.101,-25.098,-25.096,-25.093,-25.091,-25.088,-25.086,-25.083,-25.081,-25.079,-25.076,-25.074,-25.071,-25.069,-25.066,-25.063,-25.061,-25.059,-25.056,-25.053,-25.050,-25.048,-25.046,-25.043,-25.043,-25.041,-25.063,-25.053,-25.090,-25.114,-25.129,-25.137,-25.106,-25.079,-25.071,-25.110,-25.148,-25.158,-25.098,-25.159,-25.152,-25.134,-25.119,-25.102,-25.084,-25.068,-25.056,-25.045,-25.126,-25.094];
const fBlackY = [0.478,0.405,0.454,0.506,0.594,0.688,0.428,0.522,0.698,0.589,0.506,0.423,0.75,0.656,0.449,0.685,0.542,0.63,0.548,0.434,0.662,0.506,0.605,0.667,0.418,0.47,0.688,0.537,0.408,0.579,0.501,0.693,0.568,0.713,0.475,0.506,0.698,0.408,0.485,0.662,0.6,0.374,0.61,0.537,0.403,0.688,0.594,0.485,0.688,0.719,0.444,0.662,0.423,0.485,0.662,0.537,0.434,0.439,0.413,0.537,0.61,0.594,0.631,0.662,0.475,0.631,0.631,0.485,0.631,0.66,0.45,0.47,0.55,0.44,0.64,0.58,0.45,0.52,0.66,0.44,0.57,0.50,0.68,0.42];

const redXs = [aRedX, bRedX.concat(bandX), cRedX.concat(bandX), dRedX.concat(bandX), eRedX.concat(bandX), fRedX];
const redYs = [aRedY, bRedY.concat(bBandY), cRedY.concat(cBandY), dRedY.concat(dBandY), eRedY.concat(eBandY), fRedY];
const blackXs = [aBlackX, bBlackX, cBlackX, dBlackX, eBlackX, fBlackX];
const blackYs = [aBlackY, bBlackY, cBlackY, dBlackY, eBlackY, fBlackY];

// ---------- drawing ----------
const NS = "http://www.w3.org/2000/svg";
const svg = document.getElementById("fig");
const colX = [484, 1862];
const rowY = [105, 730, 1355];
const PW = 1082, PH = 512;
const XMIN = -25.2, XMAX = -25.0;

function mk(tag, attrs, parent) {
  const e = document.createElementNS(NS, tag);
  for (const k in attrs) e.setAttribute(k, attrs[k]);
  parent.appendChild(e);
  return e;
}

for (let p = 0; p < 6; p++) {
  const x0 = colX[p % 2], y0 = rowY[Math.floor(p / 2)];
  const ymin = panelYMin[p], ymax = panelYMax[p];
  const sx = v => x0 + (v - XMIN) / (XMAX - XMIN) * PW;
  const sy = v => y0 + (ymax - v) / (ymax - ymin) * PH;
  const g = mk("g", {}, svg);
  
  

  const clipId = "clip" + p;
  const cp = mk("clipPath", {id: clipId}, g);
  mk("rect", {x: x0, y: y0, width: PW, height: PH}, cp);
  const plot = mk("g", {"clip-path": "url(#" + clipId + ")"}, g);
  
  

  const bx = blackXs[p], by = blackYs[p];
  for (let i = 0; i < bx.length; i++) {
    const c = mk("circle", {cx: sx(bx[i]).toFixed(1), cy: sy(by[i]).toFixed(1), r: 9.5, fill: "#000"}, plot);
    
    
  }
  const rx = redXs[p], ry = redYs[p];
  for (let i = 0; i < rx.length; i++) {
    const r = mk("rect", {x: (sx(rx[i]) - 9).toFixed(1), y: (sy(ry[i]) - 9).toFixed(1), width: 18, height: 18, fill: "#f00"}, plot);
    
    
  }
  let pts = [];
  for (let k = 0; k < curveX.length; k++) {
    if (curveX[k] < curveFrom[p] - 1e-9 || curveX[k] > curveTo[p] + 1e-9) continue;
    const v = curveMean[p] + curveAmp[p] * curveShape[k];
    pts.push(sx(curveX[k]).toFixed(1) + "," + sy(v).toFixed(1));
  }
  const pl = mk("polyline", {points: pts.join(" "), fill: "none", stroke: "#7f00ff", "stroke-width": 5, "stroke-linejoin": "round"}, plot);
  
  

  const fr = mk("rect", {x: x0, y: y0, width: PW, height: PH, fill: "none", stroke: "#000", "stroke-width": 3}, g);
  
  

  for (let i = 0; i < xTicks.length; i++) {
    const X = sx(xTicks[i]);
    const t = mk("line", {x1: X, x2: X, y1: y0 + PH, y2: y0 + PH - 14, stroke: "#000", "stroke-width": 2.5}, g);
    
    
    const lb = mk("text", {x: X, y: y0 + PH + 66, "font-size": 48, "text-anchor": "middle", textLength: 168, lengthAdjust: "spacingAndGlyphs"}, g);
    lb.textContent = xTickLabels[i];
    
    
    if (i < xTicks.length - 1) {
      const Xm = sx(xTicks[i] + 0.025);
      const m = mk("line", {x1: Xm, x2: Xm, y1: y0 + PH, y2: y0 + PH - 8, stroke: "#000", "stroke-width": 2.5}, g);
      
      
    }
  }
  const yt = p === 2 ? yTicksC : yTicksStd;
  for (let i = 0; i < yt.length; i++) {
    const Y = sy(yt[i]);
    const t = mk("line", {x1: x0, x2: x0 + 14, y1: Y, y2: Y, stroke: "#000", "stroke-width": 2.5}, g);
    
    
    const lb = mk("text", {x: x0 - 18, y: Y + 16, "font-size": 48, "text-anchor": "end", textLength: 70, lengthAdjust: "spacingAndGlyphs"}, g);
    lb.textContent = yt[i].toFixed(1);
    
    
  }
  for (let v = yt[0] - 0.05; v < ymax; v += 0.1) {
    if (v < ymin) continue;
    const Y = sy(v);
    const m = mk("line", {x1: x0, x2: x0 + 8, y1: Y, y2: Y, stroke: "#000", "stroke-width": 2.5}, g);
    
    
  }
  const lt = mk("text", {x: x0 + 22, y: y0 + 62, "font-size": 48}, g);
  lt.textContent = panelLetters[p];
  
  
  const tt = mk("text", {x: x0 + 545, y: y0 + 62, "font-size": 48, "text-anchor": "middle", textLength: panelTitles[p].length * 27.5, lengthAdjust: "spacingAndGlyphs"}, g);
  tt.textContent = panelTitles[p];
  
  

  if (p % 2 === 0) {
    const cy = y0 + PH / 2;
    const yl = mk("text", {x: 0, y: 0, "font-size": 46, "text-anchor": "middle", transform: "translate(360," + cy + ") rotate(-90)", textLength: 520, lengthAdjust: "spacing"}, g);
    yl.textContent = "Population/arb. units";
    
    
  }
  if (p >= 4) {
    const xl = mk("text", {x: x0 + PW / 2 - 10, y: 2000, "font-size": 50, "text-anchor": "middle", textLength: 528, lengthAdjust: "spacingAndGlyphs"}, g);
    xl.innerHTML = 'Chirp rate/(MHz·s<tspan dy="-18" font-size="34">−1</tspan><tspan dy="18">)</tspan>';
    
    
  }
}
</script>
</body></html>
